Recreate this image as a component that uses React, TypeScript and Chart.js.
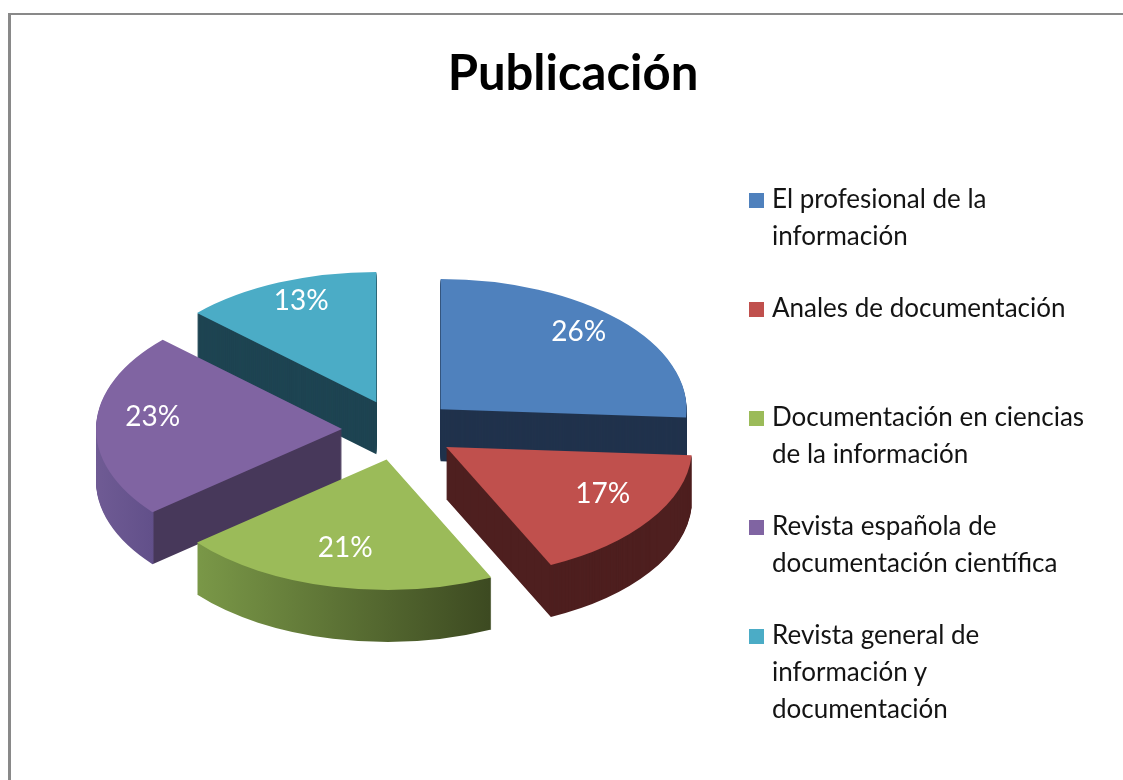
import React, { useEffect, useRef } from "react";
import { Chart, registerables } from "chart.js";

Chart.register(...registerables);

const chartTitle = "Publicación";
const categoryLines: string[][] = [
  ["El profesional de la", "información"],
  ["Anales de documentación"],
  ["Documentación en ciencias", "de la información"],
  ["Revista española de", "documentación científica"],
  ["Revista general de", "información y", "documentación"],
];
const categories = categoryLines.map((l) => l.join(" "));
const values = [26, 17, 21, 23, 13];
const topColors = ["#4F81BD", "#C0504D", "#9BBB59", "#8064A2", "#4BACC6"];
const sideColors = ["#20324C", "#4E1F1F", "#566F30", "#47385A", "#1E4452"];

const PIE_RADIUS = 246;
const TILT = 0.53;
const DEPTH = 52;
const EXPLODE = 57;
const LABEL_POS = 0.77;
const LABEL_LIFT = 9;

const midAngle = (a: any) => (a.startAngle + a.endAngle) / 2;

function sideFill(ctx: CanvasRenderingContext2D, i: number, a: any, dx: number): any {
  if (i === 2) {
    const x0 = a.x + dx - PIE_RADIUS * 0.85;
    const x1 = a.x + dx + PIE_RADIUS * 0.45;
    const g = ctx.createLinearGradient(x0 - dx, 0, x1 - dx, 0);
    g.addColorStop(0, "#7E9D4A");
    g.addColorStop(1, "#3B4820");
    return g;
  }
  if (i === 3) {
    const left = a.x + dx - PIE_RADIUS;
    const corner = a.x + dx + Math.cos(a.startAngle) * PIE_RADIUS;
    const g = ctx.createLinearGradient(left - dx, 0, left - dx + 400, 0);
    const t = Math.max(0.01, Math.min(0.98, (corner - left) / 400));
    g.addColorStop(0, "#6F5B94");
    g.addColorStop(t, "#62508A");
    g.addColorStop(Math.min(1, t + 0.005), "#47385A");
    g.addColorStop(1, "#47385A");
    return g;
  }
  return sideColors[i];
}

const pie3d = {
  id: "pie3d",
  beforeDatasetsDraw(chart: any) {
    const meta = chart.getDatasetMeta(0);
    const arcs: any[] = meta.data;
    if (!arcs.length) return;
    const ctx: CanvasRenderingContext2D = chart.ctx;
    const cx = arcs[0].x;
    const cy = arcs[0].y;
    const order = arcs
      .map((_, i) => i)
      .sort((i, j) => Math.sin(midAngle(arcs[i])) - Math.sin(midAngle(arcs[j])));

    ctx.save();
    ctx.translate(0, cy);
    ctx.scale(1, TILT);
    ctx.translate(0, -cy);

    for (const i of order) {
      const a = arcs[i];
      const m = midAngle(a);
      const dx = Math.cos(m) * EXPLODE;
      const dy = Math.sin(m) * EXPLODE;
      const side = Object.create(a);
      side.options = { ...a.options, backgroundColor: sideFill(ctx, i, a, dx), borderWidth: 0 };
      for (let k = DEPTH; k >= 1; k--) {
        ctx.save();
        ctx.translate(dx, dy + k / TILT);
        a.draw.call(side, ctx);
        ctx.restore();
      }
    }
    for (const i of order) {
      const a = arcs[i];
      const m = midAngle(a);
      ctx.save();
      ctx.translate(Math.cos(m) * EXPLODE, Math.sin(m) * EXPLODE);
      a.draw(ctx);
      ctx.restore();
    }
    ctx.restore();

    const total = values.reduce((s, v) => s + v, 0);
    ctx.save();
    ctx.fillStyle = "#FFFFFF";
    ctx.font = "28px Lato";
    ctx.textAlign = "center";
    ctx.textBaseline = "middle";
    arcs.forEach((a, i) => {
      const m = midAngle(a);
      const d = EXPLODE + LABEL_POS * a.outerRadius;
      const x = cx + Math.cos(m) * d;
      const y = cy + Math.sin(m) * d * TILT - LABEL_LIFT;
      ctx.fillText(Math.round((values[i] / total) * 100) + "%", x, y);
    });
    ctx.restore();
    return false;
  },
};

export default function App() {
  const ref = useRef<HTMLCanvasElement>(null);
  useEffect(() => {
    const chart = new Chart(ref.current as HTMLCanvasElement, {
      type: "pie",
      data: {
        labels: categories,
        datasets: [
          {
            data: values,
            backgroundColor: topColors,
            borderWidth: 0,
            radius: PIE_RADIUS,
          } as any,
        ],
      },
      options: {
        responsive: false,
        animation: false,
        events: [],
        layout: { padding: { left: 0, right: 325, top: 80, bottom: 0 } },
        plugins: {
          legend: { display: false },
          title: { display: false },
          tooltip: { enabled: false },
        },
      },
      plugins: [pie3d as any],
    });
    return () => chart.destroy();
  }, []);

  const itemTop0 = 180;
  const itemStep = 109;

  return (
    <div
      style={{
        position: "fixed",
        left: 0,
        top: 0,
        width: 1123,
        height: 780,
        overflow: "hidden",
        background: "#FFFFFF",
      }}
    >
      <div
        style={{
          position: "absolute",
          left: 8,
          top: 13,
          width: 1300,
          height: 1000,
          borderLeft: "3px solid #898989",
          borderTop: "2.5px solid #898989",
        }}
      />
      <canvas
        ref={ref}
        width={1123}
        height={780}
        style={{ position: "absolute", left: 0, top: 0, width: 1123, height: 780 }}
      />
      <div
        style={{
          position: "absolute",
          left: 0,
          top: 47,
          width: 1146,
          textAlign: "center",
          fontFamily: "Lato, sans-serif",
          fontWeight: 700,
          fontSize: 49,
          lineHeight: "49px",
          color: "#000000",
        }}
      >
        {chartTitle}
      </div>
      {categoryLines.map((lines, i) => (
        <div
          key={i}
          style={{ position: "absolute", left: 749, top: itemTop0 + i * itemStep }}
        >
          <div
            style={{
              position: "absolute",
              left: 0,
              top: 13,
              width: 15,
              height: 15,
              background: topColors[i],
            }}
          />
          <div
            style={{
              position: "absolute",
              left: 23,
              top: 0,
              whiteSpace: "nowrap",
              fontFamily: "Lato, sans-serif",
              fontSize: 26,
              lineHeight: "37px",
              color: "#141414",
            }}
          >
            {lines.map((t, k) => (
              <div key={k}>{t}</div>
            ))}
          </div>
        </div>
      ))}
    </div>
  );
}
